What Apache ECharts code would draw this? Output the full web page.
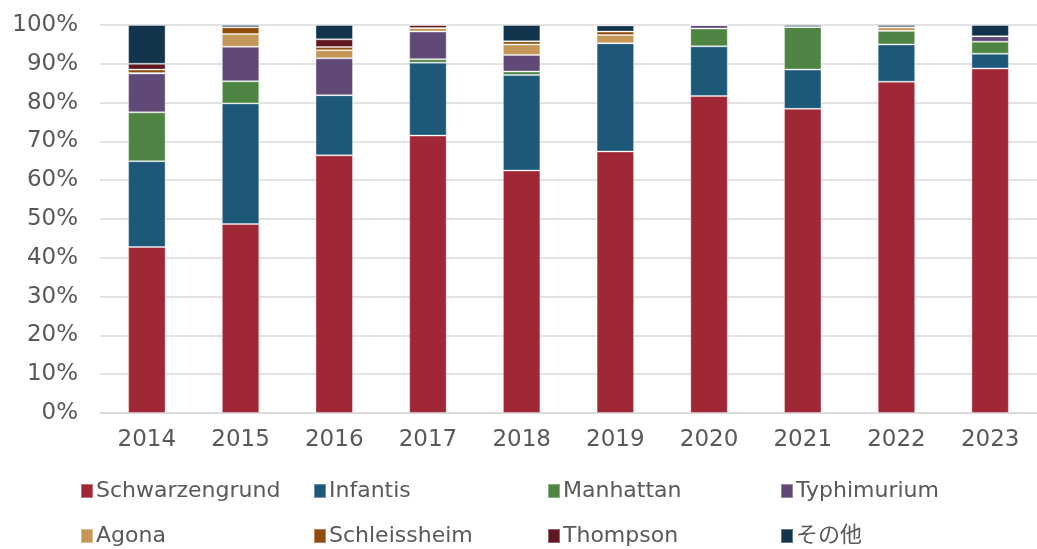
<!DOCTYPE html>
<html>
<head>
<meta charset="utf-8">
<script src="https://cdn.jsdelivr.net/npm/echarts@6/dist/echarts.min.js"></script>
<style>
  html, body { margin: 0; padding: 0; background: #fff; }
  #chart { width: 1037px; height: 549px; }
</style>
</head>
<body>
<div id="chart"></div>
<script>
  // years on the x axis
  var years = ['2014', '2015', '2016', '2017', '2018', '2019', '2020', '2021', '2022', '2023']

  // share per serotype (%)
  var schwarzengrund = [42.8, 48.7, 66.4, 71.5, 62.5, 67.4, 81.7, 78.4, 85.4, 88.8]
  var infantis       = [22.1, 31.1, 15.5, 18.8, 24.6, 27.9, 12.8, 10.1, 9.6, 3.8]
  var manhattan      = [12.6, 5.7, 0, 0.9, 0.9, 0, 4.6, 11.0, 3.5, 3.1]
  var typhimurium    = [10.0, 8.9, 9.5, 7.1, 4.3, 0, 0.9, 0, 0, 1.4]
  var agona          = [0.1, 3.3, 2.1, 0.9, 2.7, 2.1, 0, 0, 0.9, 0]
  var schleissheim   = [0.9, 1.7, 0.8, 0, 0.8, 0.9, 0, 0, 0, 0]
  var thompson       = [1.5, 0, 2.0, 0.8, 0, 0, 0, 0, 0, 0]
  var others         = [10.0, 0.6, 3.7, 0, 4.2, 1.6, 0, 0.5, 0.6, 2.9]

  var names = ['Schwarzengrund', 'Infantis', 'Manhattan', 'Typhimurium', 'Agona', 'Schleissheim', 'Thompson', 'その他']
  var values = [schwarzengrund, infantis, manhattan, typhimurium, agona, schleissheim, thompson, others]
  var colors = ['#A02836', '#1D5879', '#4F8543', '#614977', '#C39757', '#8E4B0A', '#5F1820', '#12344C']

  var font = '"DejaVu Sans", "Noto Sans CJK JP", sans-serif'

  var series = names.map(function (n, i) {
    return {
      name: n,
      type: 'bar',
      stack: 'total',
      barWidth: '40%',
      data: values[i],
      itemStyle: {
        color: colors[i],
        borderColor: 'rgba(255,255,255,0.35)',
        borderWidth: 1
      }
    }
  })

  // one legend per item so the columns line up like the original
  var legendX = [80, 313, 547, 780]
  var legendY = [480, 525]
  var legends = names.map(function (n, i) {
    return {
      data: [n],
      left: legendX[i % 4],
      top: legendY[Math.floor(i / 4)],
      padding: 0,
      icon: 'rect',
      itemWidth: 12,
      itemHeight: 14,
      itemGap: 0,
      textStyle: { color: '#595959', fontSize: 22, fontFamily: font, padding: [0, 0, 0, -2] },
      selectedMode: false
    }
  })

  var chart = echarts.init(document.getElementById('chart'))
  chart.setOption({
    animation: false,
    grid: { left: 100, right: -13, top: 25, bottom: 136 },
    legend: legends,
    xAxis: {
      type: 'category',
      data: years,
      axisTick: { show: false },
      axisLine: { lineStyle: { color: '#d9d9d9', width: 1.5 } },
      axisLabel: { color: '#595959', fontSize: 23, fontFamily: font, margin: 16 }
    },
    yAxis: {
      type: 'value',
      min: 0,
      max: 100,
      interval: 10,
      axisLabel: { color: '#595959', fontSize: 23, fontFamily: font, margin: 22, formatter: '{value}%' },
      splitLine: { lineStyle: { color: '#d9d9d9', width: 1.5 } }
    },
    series: series
  })
</script>
</body>
</html>
